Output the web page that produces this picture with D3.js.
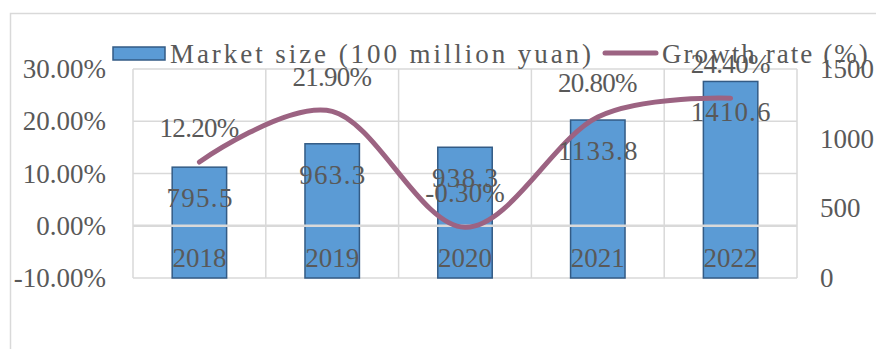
<!DOCTYPE html>
<html>
<head>
<meta charset="utf-8">
<script src="https://cdn.jsdelivr.net/npm/d3@7"></script>
<style>
  body { margin: 0; background: #fff; }
  svg { display: block; }
</style>
</head>
<body>
<script>
// chart data
const years = ["2018", "2019", "2020", "2021", "2022"];
const marketSize = [795.5, 963.3, 938.3, 1133.8, 1410.6];
const growthRate = [0.122, 0.219, -0.003, 0.208, 0.244];
const growthLabels = ["12.20%", "21.90%", "-0.30%", "20.80%", "24.40%"];
const sizeLabels = ["795.5", "963.3", "938.3", "1133.8", "1410.6"];
const leftTicks = [-0.1, 0, 0.1, 0.2, 0.3];
const leftTickLabels = ["-10.00%", "0.00%", "10.00%", "20.00%", "30.00%"];
const rightTicks = [0, 500, 1000, 1500];
const rightTickLabels = ["0", "500", "1000", "1500"];
const legendNames = ["Market size (100 million yuan)", "Growth rate (%)"];

const w = 876, h = 349;
const plot = {left: 133, right: 797, top: 69, bottom: 278};
const grey = "#595959";
const gridColor = "#d9d9d9";
const serif = "'Liberation Serif', 'Times New Roman', serif";

const svg = d3.select("body").append("svg")
    .attr("width", w)
    .attr("height", h);

// fixed-width looking text (spread to n cells, like SimSun latin)
function cellText(g, str, x, y, adv, anchor) {
    return g.append("text")
        .attr("x", x)
        .attr("y", y)
        .attr("text-anchor", anchor || "middle")
        .attr("textLength", str.length * adv - 2)
        .attr("lengthAdjust", "spacing")
        .attr("font-family", serif)
        .attr("font-size", 27)
        .attr("fill", grey)
        .text(str);
}

// outer chart border (cut off at right/bottom)
svg.append("path")
    .attr("d", `M10.5,${h} V13.5 H${w}`)
    .attr("fill", "none")
    .attr("stroke", gridColor)
    .attr("stroke-width", 1.5);

const x = d3.scaleBand()
    .domain(years)
    .range([plot.left, plot.right])
    .paddingInner(0.59)
    .paddingOuter(0.295);

const yL = d3.scaleLinear().domain([-0.1, 0.3]).range([plot.bottom, plot.top]);
const yR = d3.scaleLinear().domain([0, 1500]).range([plot.bottom, plot.top]);
const cx = d => x(d) + x.bandwidth() / 2;

// grid
const step = x.step();
const vLines = d3.range(years.length + 1).map(i => plot.left + i * step);
svg.append("g").selectAll("line")
    .data(leftTicks)
    .join("line")
    .attr("x1", plot.left).attr("x2", plot.right)
    .attr("y1", d => yL(d)).attr("y2", d => yL(d))
    .attr("stroke", gridColor)
    .attr("stroke-width", 1.5);
svg.append("g").selectAll("line")
    .data(vLines)
    .join("line")
    .attr("x1", d => d).attr("x2", d => d)
    .attr("y1", plot.top).attr("y2", plot.bottom)
    .attr("stroke", gridColor)
    .attr("stroke-width", 1.5);

// bars
svg.append("g").selectAll("rect")
    .data(years)
    .join("rect")
    .attr("x", d => x(d))
    .attr("y", (d, i) => yR(marketSize[i]))
    .attr("width", x.bandwidth())
    .attr("height", (d, i) => yR(0) - yR(marketSize[i]))
    .attr("fill", "#5b9bd5")
    .attr("stroke", "#335b85")
    .attr("stroke-width", 1.5);

// zero line of growth axis drawn over bars
svg.append("line")
    .attr("x1", plot.left).attr("x2", plot.right)
    .attr("y1", yL(0)).attr("y2", yL(0))
    .attr("stroke", "#d9d9d9")
    .attr("stroke-width", 2.5);

// axes
const leftAxis = d3.axisLeft(yL)
    .tickValues(leftTicks)
    .tickFormat((d, i) => leftTickLabels[i])
    .tickSize(0)
    .tickPadding(27);
svg.append("g")
    .attr("transform", `translate(${plot.left},0)`)
    .call(leftAxis)
    .call(g => g.select(".domain").remove())
    .selectAll("text")
    .attr("font-family", serif)
    .attr("font-size", 27)
    .attr("fill", grey);

const rightAxis = d3.axisRight(yR)
    .tickValues(rightTicks)
    .tickFormat((d, i) => rightTickLabels[i])
    .tickSize(0)
    .tickPadding(23);
svg.append("g")
    .attr("transform", `translate(${plot.right},0)`)
    .call(rightAxis)
    .call(g => g.select(".domain").remove())
    .selectAll("text")
    .attr("font-family", serif)
    .attr("font-size", 27)
    .attr("fill", grey);

// category labels
svg.append("g").selectAll("text")
    .data(years)
    .join("text")
    .attr("x", d => cx(d))
    .attr("y", 258)
    .attr("dy", "0.35em")
    .attr("text-anchor", "middle")
    .attr("font-family", serif)
    .attr("font-size", 27)
    .attr("fill", grey)
    .text(d => d);

// growth line
const line = d3.line()
    .x((d, i) => cx(years[i]))
    .y(d => yL(d))
    .curve(d3.curveCatmullRom.alpha(0));
svg.append("path")
    .datum(growthRate)
    .attr("d", line)
    .attr("fill", "none")
    .attr("stroke", "#9c6382")
    .attr("stroke-width", 5)
    .attr("stroke-linecap", "round");

// data labels
const labels = svg.append("g");
const adv = 13.6;
years.forEach((yr, i) => {
    cellText(labels, sizeLabels[i], cx(yr), yR(marketSize[i]) + 31 + 9, adv);
    cellText(labels, growthLabels[i], cx(yr), yL(growthRate[i]) - 34 + 9, adv);
});

// legend
const legend = svg.append("g");
legend.append("rect")
    .attr("x", 113).attr("y", 47)
    .attr("width", 52).attr("height", 13)
    .attr("fill", "#5b9bd5")
    .attr("stroke", "#335b85")
    .attr("stroke-width", 1.5);
cellText(legend, legendNames[0], 170, 63, 14.1, "start");
legend.append("line")
    .attr("x1", 605).attr("x2", 656)
    .attr("y1", 53).attr("y2", 53)
    .attr("stroke", "#9c6382")
    .attr("stroke-width", 5)
    .attr("stroke-linecap", "round");
cellText(legend, legendNames[1], 662, 63, 13.85, "start");
</script>
</body>
</html>
